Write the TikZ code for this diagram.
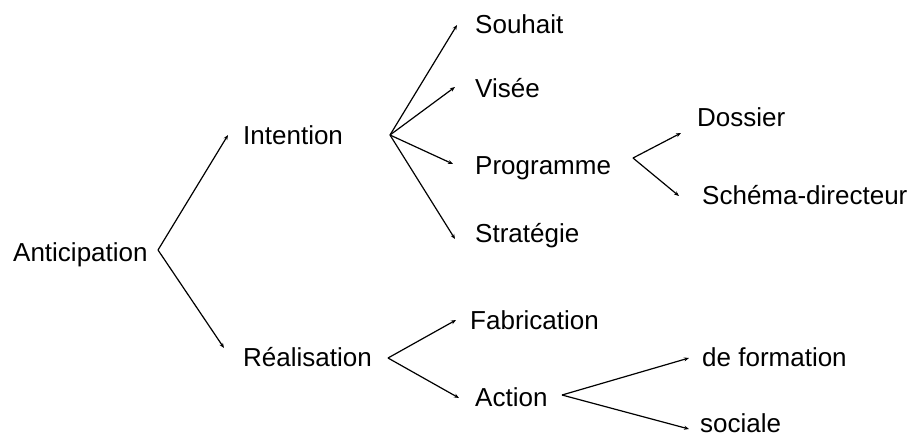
\documentclass[tikz,border=0pt]{standalone}
\usepackage{fontspec}
\setmainfont{Liberation Sans}
\usetikzlibrary{arrows.meta}
\begin{document}
\begin{tikzpicture}[x=1pt,y=-1pt,
  lbl/.style={anchor=base west,inner sep=0pt,font=\fontsize{26}{30}\selectfont},
  arr/.style={-{Stealth[length=5pt,width=4pt]},line width=1.2pt}]
\useasboundingbox (0,0) rectangle (912,437);
% labels
\node[lbl] (antic) at (13,261) {Anticipation};
\node[lbl] (inten) at (243,144) {Intention};
\node[lbl] (reali) at (243,366) {Réalisation};
\node[lbl] (souh) at (475,33) {Souhait};
\node[lbl] (vise) at (475,97) {Visée};
\node[lbl] (prog) at (475,174) {Programme};
\node[lbl] (strat) at (475,242) {Stratégie};
\node[lbl] (doss) at (697,126) {Dossier};
\node[lbl] (schem) at (702,204) {Schéma-directeur};
\node[lbl] (fabr) at (470,329) {Fabrication};
\node[lbl] (actn) at (475,406) {Action};
\node[lbl] (deform) at (702,366) {de formation};
\node[lbl] (soc) at (700,432) {sociale};
% fork vertices
\coordinate (vA) at (158,250);
\coordinate (vI) at (390,135);
\coordinate (vP) at (633,158);
\coordinate (vR) at (388,358);
\coordinate (vAc) at (562,395);
% arrow tips
\coordinate (tInten) at (228,135);
\coordinate (tReali) at (224,348);
\coordinate (tSouh) at (457,25);
\coordinate (tVise) at (455,87);
\coordinate (tProg) at (453,164);
\coordinate (tStrat) at (455,239);
\coordinate (tDoss) at (681,133);
\coordinate (tSchem) at (679,196);
\coordinate (tFabr) at (456,320);
\coordinate (tActn) at (459,398);
\coordinate (tDeform) at (689,358);
\coordinate (tSoc) at (689,429);
% connectors
\draw[arr] (vA) -- (tInten);
\draw[arr] (vA) -- (tReali);
\draw[arr] (vI) -- (tSouh);
\draw[arr] (vI) -- (tVise);
\draw[arr] (vI) -- (tProg);
\draw[arr] (vI) -- (tStrat);
\draw[arr] (vP) -- (tDoss);
\draw[arr] (vP) -- (tSchem);
\draw[arr] (vR) -- (tFabr);
\draw[arr] (vR) -- (tActn);
\draw[arr] (vAc) -- (tDeform);
\draw[arr] (vAc) -- (tSoc);
\end{tikzpicture}
\end{document}
